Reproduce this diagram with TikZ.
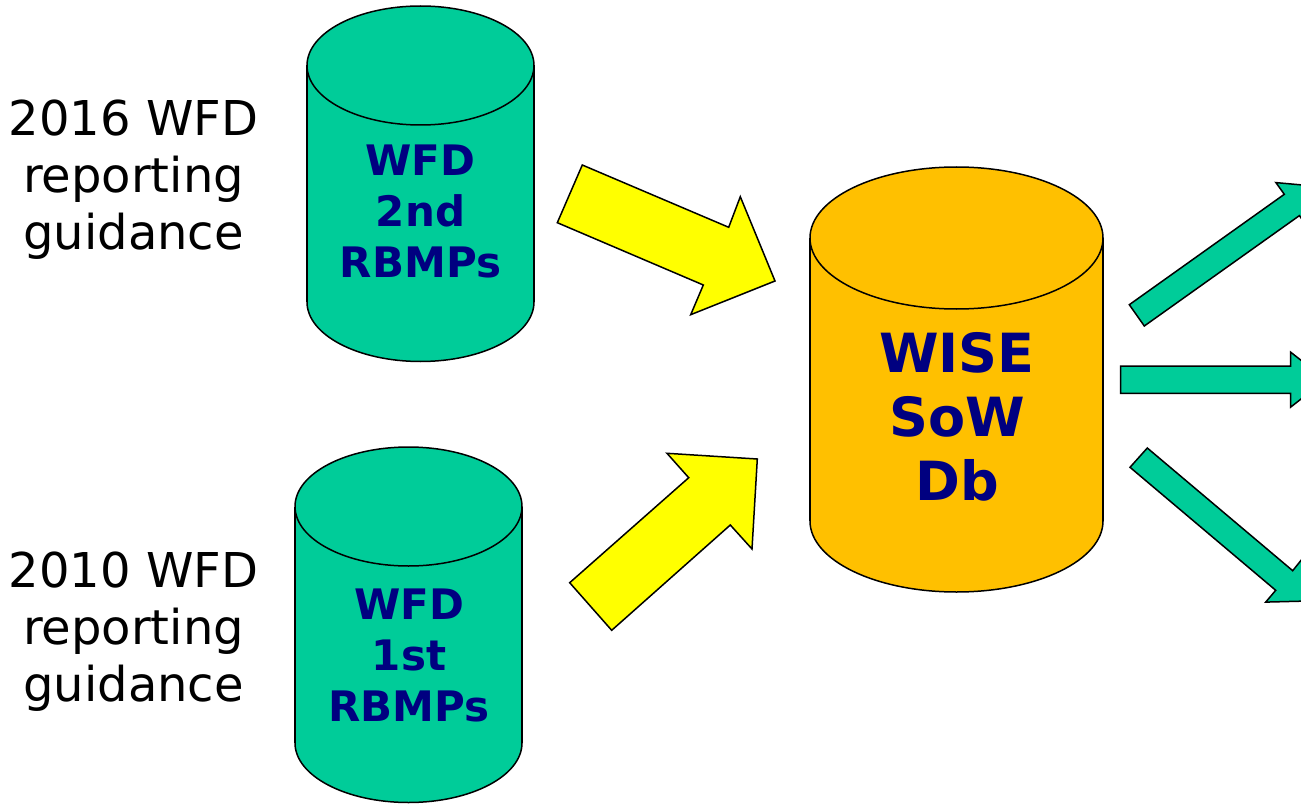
\documentclass[tikz,border=0pt]{standalone}
\usepackage{fontspec}
\setmainfont{DejaVu Sans}
\usetikzlibrary{calc}
\definecolor{dbgreen}{HTML}{00CC99}
\definecolor{dborange}{HTML}{FFC000}
\definecolor{dbyellow}{HTML}{FFFF00}
\definecolor{dbnavy}{HTML}{000080}
\tikzset{
  outline/.style={draw=black, line width=1.5pt, line join=miter},
  yarrow/.style={outline, fill=dbyellow},
  garrow/.style={outline, fill=dbgreen},
  sidetext/.style={anchor=base, inner sep=0pt, font=\fontsize{48}{57}\selectfont, text=black},
  drumtext/.style={anchor=base, inner sep=0pt, font=\bfseries\fontsize{42}{51}\selectfont, text=dbnavy},
  bigtext/.style={anchor=base, inner sep=0pt, font=\bfseries\fontsize{54}{64}\selectfont, text=dbnavy}
}
% #1 cx, #2 y of top ellipse centre, #3 y of bottom ellipse centre, #4 rx, #5 ry, #6 fill colour
\newcommand{\dbdrum}[6]{%
  \path[fill=#6, outline] (#1,#3) ellipse [x radius=#4, y radius=#5];
  \fill[#6] (#1-#4,#2) rectangle (#1+#4,#3);
  \draw[line width=1.5pt] (#1-#4,#2) -- (#1-#4,#3) (#1+#4,#2) -- (#1+#4,#3);
  \path[fill=#6, outline] (#1,#2) ellipse [x radius=#4, y radius=#5];
}
\begin{document}
\begin{tikzpicture}[x=1pt, y=-1pt]
\useasboundingbox (0,0) rectangle (1301,805);
\fill[white] (0,0) rectangle (1301,805);

% side labels
\node[sidetext] (t2016) at (133.5,136) {\begin{tabular}[t]{@{}c@{}}2016 WFD\\reporting\\guidance\end{tabular}};
\node[sidetext] (t2010) at (133.5,587) {\begin{tabular}[t]{@{}c@{}}2010 WFD\\reporting\\guidance\end{tabular}};

% cylinders
\dbdrum{420.5}{65.5}{302}{113.5}{59.5}{dbgreen}
\dbdrum{408.5}{506.5}{743}{113.5}{59.5}{dbgreen}
\dbdrum{956.5}{238}{521}{146.5}{71}{dborange}

\node[drumtext] (rb2) at (420.5,176) {\begin{tabular}[t]{@{}c@{}}WFD\\2nd\\RBMPs\end{tabular}};
\node[drumtext] (rb1) at (409,619) {\begin{tabular}[t]{@{}c@{}}WFD\\1st\\RBMPs\end{tabular}};
\node[bigtext] (wise) at (957,372) {\begin{tabular}[t]{@{}c@{}}WISE\\SoW\\Db\end{tabular}};

% yellow block arrows
\path[yarrow] (582.3,165) -- (728.7,227.3) -- (740.3,196.7) -- (775,281) -- (690.7,314.7) -- (703.3,285) -- (557.3,222.7) -- cycle;
\path[yarrow] (569.7,582.7) -- (688.7,477.7) -- (667,453.3) -- (757.3,459) -- (752,549) -- (730.3,525) -- (611.7,630.3) -- cycle;

% green block arrows (cut by the right edge)
\begin{scope}
\clip (0,0) rectangle (1301,805);
\path[garrow] (1129.3,304.7) -- (1284.3,194.3) -- (1275.9,182.6) -- (1317.9,186.4) -- (1307.8,227.4) -- (1299.4,215.6) -- (1144.3,326) -- cycle;
\path[garrow] (1120.7,366) -- (1290.7,366) -- (1290.7,352.2) -- (1325.7,379.65) -- (1290.7,407.1) -- (1290.7,393.3) -- (1120.7,393.3) -- cycle;
\path[garrow] (1147.3,448) -- (1292.7,570.7) -- (1302.4,558.6) -- (1308.5,601) -- (1265.7,602.1) -- (1275.7,590.3) -- (1130,467.3) -- cycle;
\end{scope}
\end{tikzpicture}
\end{document}
